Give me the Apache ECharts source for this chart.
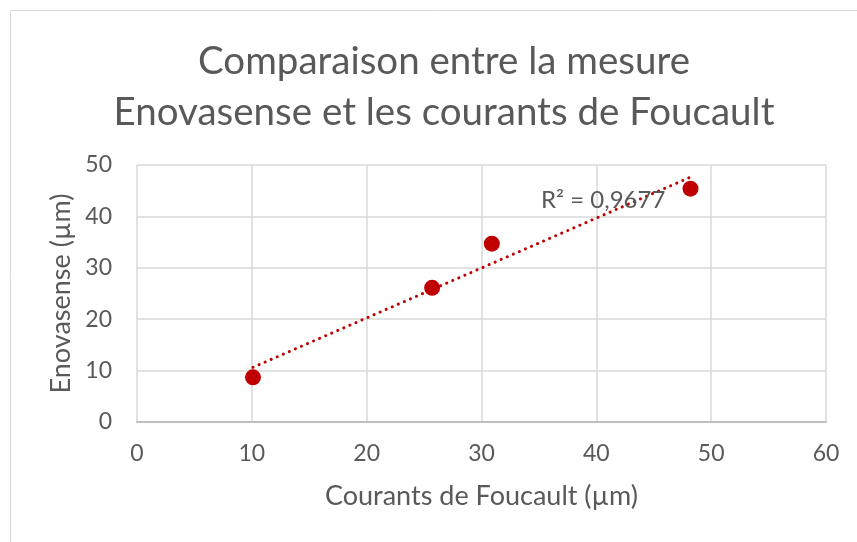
<!DOCTYPE html>
<html><head><meta charset="utf-8">
<script src="https://cdn.jsdelivr.net/npm/echarts@6/dist/echarts.min.js"></script>
<style>html,body{margin:0;padding:0;background:#fff}#c{width:857px;height:542px}</style>
</head><body><div id="c"></div>
<script>
const titleLines = ['Comparaison entre la mesure', 'Enovasense et les courants de Foucault'];
const xName = 'Courants de Foucault (µm)';
const yName = 'Enovasense (µm)';
const foucault = [10.1, 25.7, 30.9, 48.2];
const enovasense = [8.7, 26.1, 34.7, 45.4];
const r2Label = 'R² = 0,9677';

// least squares trendline from data
const n = foucault.length;
const mx = foucault.reduce((a,b)=>a+b,0)/n;
const my = enovasense.reduce((a,b)=>a+b,0)/n;
let sxy=0, sxx=0;
for (let i=0;i<n;i++){ sxy+=(foucault[i]-mx)*(enovasense[i]-my); sxx+=(foucault[i]-mx)**2; }
const slope = sxy/sxx, icpt = my - slope*mx;
const xMin = Math.min(...foucault), xMax = Math.max(...foucault);
const trend = [[xMin, icpt+slope*xMin],[xMax, icpt+slope*xMax]];

const FONT = 'Lato';
const chart = echarts.init(document.getElementById('c'));
chart.setOption({
  backgroundColor: '#fff',
  animation: false,
  title: {
    text: titleLines.join('\n'),
    left: 439, top: 31, textAlign: 'center',
    textStyle: {fontFamily: FONT, fontSize: 38.5, fontWeight: 'normal', color: '#595959', lineHeight: 51}
  },
  grid: {left: 137, right: 31, top: 165, bottom: 120},
  xAxis: {
    type: 'value', min: 0, max: 60, interval: 10,
    name: xName, nameLocation: 'middle', nameGap: 61,
    nameTextStyle: {fontFamily: FONT, fontSize: 27, color: '#595959'},
    axisLine: {show: true, lineStyle: {color: '#bfbfbf', width: 2}},
    axisTick: {show: false},
    axisLabel: {fontFamily: FONT, fontSize: 23, color: '#595959', margin: 20},
    splitLine: {show: true, lineStyle: {color: '#d9d9d9', width: 1.5}}
  },
  yAxis: {
    type: 'value', min: 0, max: 50, interval: 10,
    name: yName, nameLocation: 'middle', nameGap: 62, nameRotate: 90,
    nameTextStyle: {fontFamily: FONT, fontSize: 27, color: '#595959'},
    axisLine: {show: false},
    axisTick: {show: false},
    axisLabel: {fontFamily: FONT, fontSize: 23, color: '#595959', margin: 25},
    splitLine: {show: true, lineStyle: {color: '#d9d9d9', width: 1.5}}
  },
  graphic: [
    {type: 'rect', left: 8, top: 8, shape: {width: 900, height: 600}, style: {fill: 'none', stroke: '#d9d9d9', lineWidth: 1}, z: -1},
    {type: 'text', left: 541, top: 188, style: {text: r2Label, fontFamily: FONT, fontSize: 24, fill: '#595959'}, z: 10}
  ],
  series: [
    {type: 'line', data: trend, showSymbol: false, symbol: 'none',
     lineStyle: {color: '#c00000', width: 3, type: [0.1, 6.5], cap: 'round'}, z: 3, silent: true},
    {type: 'scatter', data: foucault.map((x,i)=>[x, enovasense[i]]), symbolSize: 16,
     itemStyle: {color: '#c00000', opacity: 1}, z: 4}
  ]
});
</script></body></html>
